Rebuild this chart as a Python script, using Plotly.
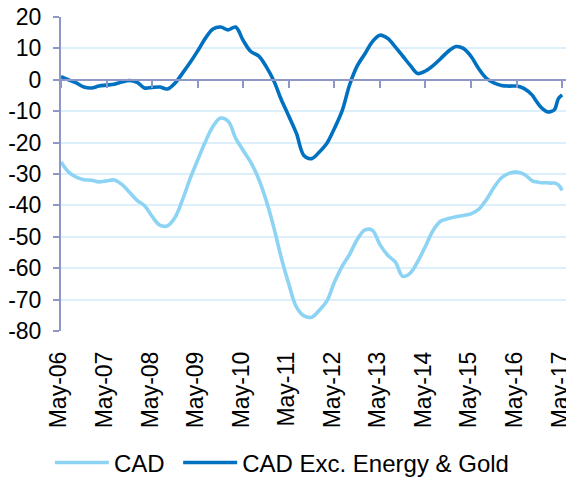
import plotly.graph_objects as go

dates = [
    "2006-05-01", "2006-07-01", "2006-09-01", "2006-11-01", "2007-01-01", "2007-03-01",
    "2007-05-01", "2007-07-01", "2007-09-01", "2007-11-01", "2008-01-01", "2008-03-01",
    "2008-05-01", "2008-07-01", "2008-09-01", "2008-11-01", "2009-01-01", "2009-03-01",
    "2009-05-01", "2009-07-01", "2009-09-01", "2009-11-01", "2010-01-01", "2010-03-01",
    "2010-05-01", "2010-07-01", "2010-09-01", "2010-11-01", "2011-01-01", "2011-03-01",
    "2011-05-01", "2011-07-01", "2011-09-01", "2011-11-01", "2012-01-01", "2012-03-01",
    "2012-05-01", "2012-07-01", "2012-09-01", "2012-11-01", "2013-01-01", "2013-03-01",
    "2013-05-01", "2013-07-01", "2013-09-01", "2013-11-01", "2014-01-01", "2014-03-01",
    "2014-05-01", "2014-07-01", "2014-09-01", "2014-11-01", "2015-01-01", "2015-03-01",
    "2015-05-01", "2015-07-01", "2015-09-01", "2015-11-01", "2016-01-01", "2016-03-01",
    "2016-05-01", "2016-07-01", "2016-09-01", "2016-10-01", "2016-11-01", "2016-12-01",
    "2017-01-01", "2017-02-01", "2017-03-01", "2017-04-01", "2017-05-01",
]

cad = [
    -26.2, -29.4, -31.0, -31.8, -32.0, -32.5,
    -32.2, -31.9, -33.3, -35.8, -38.4, -40.1,
    -43.5, -46.3, -46.5, -43.8, -38.0, -31.5,
    -25.5, -19.8, -14.8, -12.2, -13.2, -18.6,
    -22.5, -26.3, -31.5, -38.4, -47.0, -56.5,
    -65.0, -72.3, -75.2, -75.6, -73.4, -70.5,
    -64.5, -59.5, -55.5, -50.8, -47.8, -47.9,
    -52.5, -55.8, -58.0, -62.6, -61.5, -57.8,
    -53.0, -48.0, -45.0, -44.2, -43.6, -43.2,
    -42.7, -41.3, -38.2, -34.3, -31.2, -29.8,
    -29.4, -30.1, -32.1, -32.5, -32.7, -32.8,
    -32.8, -32.9, -32.9, -33.5, -35.2,
]

cad_ex = [
    1.0, 0.0, -1.0, -2.3, -2.6, -2.0,
    -1.7, -1.4, -0.7, -0.2, -0.8, -2.6,
    -2.4, -2.3, -2.9, -1.0, 2.2, 5.5,
    9.2, 13.2, 16.2, 16.8, 15.9, 16.8,
    12.5, 9.0, 7.6, 4.2, -0.3, -6.2,
    -11.5, -17.0, -24.2, -25.1, -23.0, -20.3,
    -15.5, -10.0, -1.5, 4.5, 8.3, 12.1,
    14.2, 13.2, 10.5, 7.5, 4.5, 2.0,
    2.8, 4.5, 6.8, 9.1, 10.6, 10.0,
    7.5, 3.6, 0.5, -1.0, -1.8, -2.0,
    -2.0, -2.8, -4.8, -6.5, -8.2, -9.4,
    -10.2, -10.1, -9.5, -6.0, -4.8,
]

series_names = ["CAD", "CAD Exc. Energy & Gold"]

x_tick_vals = ["2006-05-01", "2007-05-01", "2008-05-01", "2009-05-01", "2010-05-01",
               "2011-05-01", "2012-05-01", "2013-05-01", "2014-05-01", "2015-05-01",
               "2016-05-01", "2017-05-01"]
x_tick_text = ["May-06", "May-07", "May-08", "May-09", "May-10", "May-11",
               "May-12", "May-13", "May-14", "May-15", "May-16", "May-17"]
y_tick_vals = [20, 10, 0, -10, -20, -30, -40, -50, -60, -70, -80]
y_tick_text = ["20", "10", "0", "-10", "-20", "-30", "-40", "-50", "-60", "-70", "-80"]

colors = ["#8DD3F3", "#0070C0"]
axis_color = "#8E98C8"
grid_color = "#DDEFFB"
font_family = "Liberation Sans, Arial, sans-serif"

fig = go.Figure()
for name, vals, col, lg in zip(series_names, [cad, cad_ex], colors, ["legend", "legend2"]):
    fig.add_trace(go.Scatter(
        x=dates, y=vals, name=name, mode="lines", legend=lg,
        line=dict(color=col, width=3.6, shape="spline", smoothing=1.0),
    ))

x_range = ["2006-05-01", "2017-06-01"]

legend_common = dict(
    orientation="h", xanchor="left", y=-0.42, yanchor="middle",
    font=dict(size=24, color="#000000"), itemwidth=54, bgcolor="rgba(0,0,0,0)",
)

fig.update_layout(
    width=566, height=469,
    margin=dict(l=53, r=8, t=9, b=146, autoexpand=False),
    paper_bgcolor="white", plot_bgcolor="white",
    font=dict(family=font_family, size=22, color="#000000"),
    showlegend=True,
    legend=dict(x=-0.022, **legend_common),
    legend2=dict(x=0.232, **legend_common),
    xaxis=dict(
        type="date", range=x_range,
        tickmode="array", tickvals=x_tick_vals, ticktext=x_tick_text,
        tickangle=-90, showgrid=False, showline=False, ticks="",
        zeroline=False, ticklabelstandoff=15, ticklabeloverflow="allow",
        ticklabelshift=-2,
        tickfont=dict(size=23),
    ),
    xaxis2=dict(
        type="date", range=x_range, overlaying="x", anchor="free", position=0.8,
        tickmode="array", tickvals=x_tick_vals, showticklabels=False,
        showgrid=False, showline=True, linecolor=axis_color, linewidth=2,
        ticks="outside", ticklen=7, tickwidth=2, tickcolor=axis_color,
        zeroline=False,
    ),
    yaxis=dict(
        range=[-80, 20], tickmode="array", tickvals=y_tick_vals, ticktext=y_tick_text,
        showgrid=True, gridcolor=grid_color, gridwidth=1.5,
        showline=True, linecolor=axis_color, linewidth=2,
        ticks="outside", ticklen=6, tickwidth=2, tickcolor=axis_color,
        zeroline=False, ticklabelstandoff=7, ticklabeloverflow="allow",
        tickfont=dict(size=23),
    ),
)

# invisible helper trace so the zero-level axis (xaxis2) is rendered
fig.add_trace(go.Scatter(x=[dates[0]], y=[0], xaxis="x2", yaxis="y",
                         mode="markers", marker=dict(opacity=0),
                         showlegend=False, hoverinfo="skip"))

fig.write_html("out.html")
